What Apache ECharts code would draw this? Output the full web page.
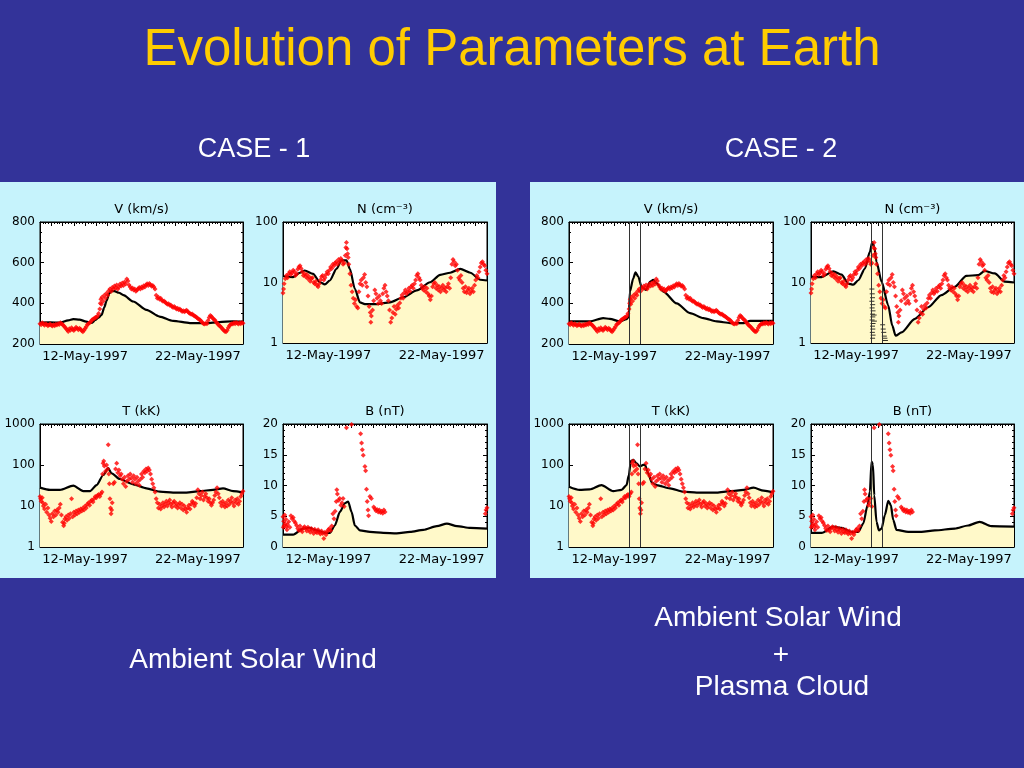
<!DOCTYPE html>
<html>
<head>
<meta charset="utf-8">
<script src="https://cdn.jsdelivr.net/npm/echarts@6/dist/echarts.min.js"></script>
<style>html,body{margin:0;padding:0;background:#333399;}#c{width:1024px;height:768px;}</style>
</head>
<body>
<div id="c"></div>
<script>
// ---------- DATA (day of May 1997, value) ----------
const xTickLabels = {12: '12-May-1997', 22: '22-May-1997'};
const cloudBoundaries = [13.35, 14.3];

// Model (black curve) - CASE 1
const vModel1 = [[8,305],[8.89,306],[9.77,305],[10.5,316],[10.95,322],[11.5,320],[12.1,310],[12.6,304],[12.9,318],[13.2,330],[13.46,343],[13.7,380],[13.9,412],[14.15,450],[14.34,461],[14.6,460],[15.0,452],[15.4,440],[16.26,409],[17.44,368],[18.6,335],[19.8,314],[21.3,303],[22.75,302],[23.9,308],[25.1,312],[26,310]];
const nModel1 = [[8,12.7],[8.89,12.3],[9.5,14.5],[9.92,15.8],[10.66,13.9],[11.25,10.1],[11.69,9.3],[12.13,10.8],[12.72,16.8],[13.16,23.2],[13.6,23.2],[13.9,16.8],[14.34,7.85],[14.79,4.7],[15.23,4.4],[16.26,4.4],[17.44,4.7],[18.62,5.7],[19.8,7.4],[20.98,10.1],[21.87,13.4],[22.75,14.5],[23.64,16.8],[24.53,14.5],[25.41,11.1],[26,10.8]];
const tModel1 = [[8,28],[8.89,24.6],[9.77,24.6],[10.95,31.3],[11.84,23.1],[12.43,23.1],[13.02,32.4],[13.61,57],[14.05,83.6],[14.34,63],[15.08,45.6],[16.26,33.8],[17.44,26.9],[18.62,22.3],[19.8,21.1],[20.98,21.1],[22.16,23.1],[23.34,24.6],[24.23,26.9],[25.12,23.1],[26,21.5]];
const bModel1 = [[8,2.0],[8.89,2.0],[9.77,3.0],[10.36,3.1],[10.95,2.7],[11.69,2.3],[12.13,2.3],[12.57,3.5],[13.02,5.7],[13.46,7.1],[13.75,7.4],[14.05,5.7],[14.34,3.5],[14.79,2.7],[15.67,2.45],[16.85,2.3],[18.03,2.2],[19.21,2.45],[20.39,2.8],[21.57,3.4],[22.46,3.8],[23.35,3.4],[24.53,3.1],[26,3.0]];

// Model (black curve) - CASE 2
const vModel2 = [[8,311],[9.83,311],[11.01,327],[11.6,324],[12.49,311],[13.08,322],[13.28,335],[13.37,458],[13.67,523],[13.87,552],[14.11,531],[14.4,482],[14.79,466],[15.14,506],[15.44,515],[15.73,498],[16.32,458],[17.5,400],[18.68,352],[19.86,327],[21.04,311],[22.22,303],[23.4,303],[23.99,314],[25.17,314],[26,314]];
const nModel2 = [[8,12.3],[8.94,12.3],[9.98,15.3],[10.71,13.5],[11.3,9.6],[11.75,9.2],[12.19,10.9],[12.78,17],[13.22,32],[13.43,46.4],[13.61,39],[13.81,22],[14.26,10.3],[14.85,4.2],[15.2,1.95],[15.5,1.32],[16.03,1.5],[17.21,2.5],[18.39,3.9],[19.57,6.2],[20.75,8.5],[21.78,12.9],[22.81,13.2],[23.4,15.5],[24.29,14.1],[25.17,10.3],[26,10]];
const tModel2 = [[8,29.5],[8.94,24.6],[9.83,25.5],[10.86,32.4],[11.9,23.1],[12.63,24.6],[13.08,32.4],[13.28,57],[13.46,126],[13.67,133],[13.96,110],[14.26,92],[14.55,101],[14.7,101],[14.99,63],[15.29,38],[15.73,32.4],[16.91,27],[18.09,22.3],[19.27,21.1],[21.04,21.1],[22.22,23.1],[23.4,24.6],[24.29,28],[25.17,23.7],[26,21.5]];
const bModel2 = [[8,2.3],[8.94,2.3],[9.98,3.3],[10.71,3.1],[11.6,2.45],[12.19,2.45],[12.63,3.8],[13.02,6.8],[13.22,9.0],[13.37,13.9],[13.49,13.4],[13.61,8.4],[13.81,4.1],[14.02,2.7],[14.26,3.0],[14.55,5.2],[14.85,7.5],[15.08,6.8],[15.29,4.4],[15.58,2.8],[16.62,2.45],[17.8,2.45],[18.98,2.7],[20.75,3.0],[21.93,3.5],[22.96,4.1],[23.99,3.4],[26,3.3]];

// Cloud density dashes (CASE 2, N panel)
const nCloud = [[13.4,7.8],[13.43,6.5],[13.45,5.6],[13.4,4.9],[13.47,4.3],[13.42,3.8],[13.5,3.4],[13.45,3.0],[13.48,2.7],[13.42,2.4],[13.5,2.1],[13.45,1.9],[13.48,1.7],[13.44,1.5],[13.5,1.35],[13.46,1.2],[13.6,2.9],[13.62,2.3],[14.35,2.0],[14.4,1.7],[14.45,1.5],[14.5,1.3],[14.55,1.2],[14.6,1.1]];

// Observations (red) - shared by both cases
const vObs = [[8.0,300],[8.1,295],[8.2,305],[8.3,298],[8.4,292],[8.5,300],[8.6,296],[8.7,290],[8.8,294],[8.9,298],[9.0,292],[9.1,288],[9.2,295],[9.3,290],[9.4,297],[9.5,293],[9.6,300],[9.7,296],[9.8,305],[9.9,300],[10.0,296],[10.1,290],[10.2,284],[10.3,276],[10.4,270],[10.5,262],[10.6,275],[10.7,268],[10.8,280],[10.9,272],[11.0,266],[11.1,274],[11.2,282],[11.3,276],[11.4,270],[11.5,278],[11.6,272],[11.7,265],[11.8,260],[11.9,268],[12.0,276],[12.1,285],[12.2,296],[12.3,300],[12.4,305],[12.5,310],[12.6,318],[12.7,322],[12.8,326],[12.9,330],[13.0,332],[13.1,338],[13.2,350],[13.3,372],[13.35,400],[13.4,420],[13.45,395],[13.5,430],[13.6,410],[13.7,440],[13.8,425],[13.9,450],[14.0,440],[14.1,462],[14.2,470],[14.3,458],[14.4,478],[14.5,470],[14.6,485],[14.7,475],[14.8,490],[14.9,470],[15.0,480],[15.1,495],[15.2,485],[15.3,500],[15.4,488],[15.5,505],[15.6,495],[15.7,520],[15.8,510],[15.9,490],[16.0,480],[16.1,470],[16.2,475],[16.3,465],[16.4,470],[16.5,460],[16.6,466],[16.7,472],[16.8,478],[16.9,470],[17.0,480],[17.1,476],[17.2,486],[17.3,480],[17.4,490],[17.5,496],[17.6,488],[17.7,498],[17.8,492],[17.9,484],[18.0,488],[18.1,480],[18.2,470],[18.3,440],[18.4,425],[18.5,430],[18.6,420],[18.7,425],[18.8,415],[18.9,410],[19.0,412],[19.1,405],[19.2,400],[19.3,395],[19.4,398],[19.5,390],[19.6,392],[19.7,385],[19.8,380],[19.9,384],[20.0,378],[20.1,372],[20.2,376],[20.3,368],[20.4,372],[20.5,366],[20.6,360],[20.7,364],[20.8,358],[20.9,362],[21.0,366],[21.1,360],[21.2,354],[21.3,350],[21.4,346],[21.5,348],[21.6,342],[21.7,338],[21.8,335],[21.9,330],[22.0,326],[22.1,322],[22.2,318],[22.3,312],[22.4,306],[22.5,300],[22.6,298],[22.7,302],[22.8,300],[22.9,315],[23.0,330],[23.1,340],[23.2,335],[23.3,328],[23.4,322],[23.5,318],[23.6,310],[23.7,302],[23.8,296],[23.9,290],[24.0,286],[24.1,280],[24.2,272],[24.3,268],[24.4,262],[24.5,260],[24.6,268],[24.7,280],[24.8,290],[24.9,296],[25.0,300],[25.1,298],[25.2,304],[25.3,300],[25.4,306],[25.5,302],[25.6,298],[25.7,305],[25.8,300],[25.9,306],[26.0,302]];
const nObs = [[8.0,6.7],[8.05,7.8],[8.1,9.5],[8.2,11.5],[8.3,13],[8.4,12],[8.5,14],[8.6,15],[8.7,13.5],[8.8,14.5],[8.9,16],[9.0,15],[9.1,13],[9.2,14],[9.3,16.5],[9.4,18],[9.5,19],[9.6,17],[9.7,15],[9.8,13],[9.9,14],[10.0,12.5],[10.1,13.5],[10.2,11.5],[10.3,12.5],[10.4,10.5],[10.5,11.5],[10.6,12],[10.7,10],[10.8,9.5],[10.9,10.5],[11.0,9],[11.1,8.5],[11.2,9.5],[11.3,11],[11.4,12.5],[11.5,13],[11.6,11],[11.7,12],[11.8,13.5],[11.9,15],[12.0,14],[12.1,16],[12.2,18],[12.3,17],[12.4,20],[12.5,19],[12.6,21],[12.7,22],[12.8,20],[12.9,24],[13.0,22],[13.1,25],[13.2,23],[13.3,20],[13.4,21],[13.5,28],[13.55,38],[13.6,46],[13.65,36],[13.7,30],[13.75,26],[13.8,20],[13.9,14],[14.0,9],[14.1,7],[14.2,5.5],[14.3,4.5],[14.4,5.2],[14.5,4],[14.6,3.8],[14.7,7],[14.8,9.5],[14.9,11],[15.0,9],[15.1,12],[15.2,13.5],[15.3,10],[15.4,8.5],[15.5,6],[15.6,4],[15.7,3.2],[15.75,2.2],[15.8,2.8],[15.9,3.5],[16.0,5],[16.1,7.5],[16.2,6.5],[16.3,5.5],[16.4,4.5],[16.5,6],[16.6,5],[16.7,4.5],[16.8,6.5],[16.9,8],[17.0,9],[17.1,7],[17.2,6],[17.3,5],[17.4,3.5],[17.5,2.2],[17.6,2.6],[17.7,3.2],[17.8,4],[17.9,3],[18.0,3.6],[18.1,4.2],[18.2,3.8],[18.3,4.6],[18.4,5.5],[18.5,6.2],[18.6,5.5],[18.7,6.8],[18.8,7.5],[18.9,6.5],[19.0,7],[19.1,8],[19.2,7.2],[19.3,8.5],[19.4,9],[19.5,8],[19.6,9.5],[19.7,11],[19.8,13],[19.9,14],[20.0,12],[20.1,11],[20.2,9],[20.3,8],[20.4,7.5],[20.5,8.5],[20.6,7],[20.7,8],[20.8,6.5],[20.9,6],[21.0,5.2],[21.1,6],[21.2,8.5],[21.3,9.5],[21.4,10],[21.5,8],[21.6,9],[21.7,7.5],[21.8,8.5],[21.9,7],[22.0,8],[22.1,9],[22.2,7.5],[22.3,8.2],[22.4,7],[22.5,8.5],[22.6,9.5],[22.7,8],[22.8,12],[22.9,20],[23.0,24],[23.1,22],[23.2,19],[23.3,20],[23.4,16],[23.5,12],[23.6,11],[23.7,13],[23.8,10],[23.9,8],[24.0,7],[24.1,8.5],[24.2,6.8],[24.3,7.5],[24.4,8],[24.5,6.5],[24.6,7.2],[24.7,8],[24.8,7],[24.9,9],[25.0,11],[25.1,13],[25.2,12],[25.3,15],[25.4,18],[25.5,21],[25.6,22],[25.7,20],[25.8,19],[25.9,16],[26.0,14]];
const tObs = [[8.0,17],[8.05,15],[8.1,13],[8.2,16],[8.25,12],[8.3,10],[8.4,8.5],[8.5,11],[8.6,7],[8.7,9],[8.8,6],[8.9,5],[9.0,4.2],[9.1,6.5],[9.2,5.5],[9.3,7.5],[9.4,6],[9.5,8],[9.6,7],[9.7,9],[9.8,11],[9.9,6],[10.0,4],[10.1,3.3],[10.15,3.8],[10.2,4.8],[10.3,5.5],[10.4,4.5],[10.5,6],[10.6,5],[10.7,6.5],[10.8,15],[10.9,5.5],[11.0,7],[11.1,6],[11.2,7.5],[11.3,6.5],[11.4,8],[11.5,7],[11.6,8.5],[11.7,7.5],[11.8,9],[11.9,8],[12.0,10],[12.1,9],[12.2,11],[12.3,12],[12.4,10.5],[12.5,13],[12.6,14],[12.7,12.5],[12.8,15],[12.9,17],[13.0,16],[13.1,18],[13.2,19],[13.3,17],[13.4,20],[13.5,22],[13.55,60],[13.6,110],[13.65,125],[13.7,95],[13.8,70],[13.9,100],[14.0,80],[14.05,310],[14.1,60],[14.15,35],[14.2,15],[14.25,9],[14.3,6.5],[14.35,8],[14.4,12],[14.5,35],[14.6,38],[14.7,80],[14.8,110],[14.9,65],[15.0,75],[15.1,55],[15.2,60],[15.3,45],[15.4,35],[15.5,50],[15.6,30],[15.7,40],[15.8,55],[15.9,45],[16.0,60],[16.1,48],[16.2,38],[16.3,55],[16.4,45],[16.5,35],[16.6,50],[16.7,40],[16.8,32],[16.9,45],[17.0,60],[17.1,50],[17.2,70],[17.3,65],[17.4,80],[17.5,70],[17.6,85],[17.7,75],[17.8,60],[17.9,45],[18.0,35],[18.1,28],[18.2,22],[18.3,15],[18.4,12],[18.5,9],[18.6,11],[18.7,8.5],[18.8,10],[18.9,12],[19.0,9.5],[19.1,11],[19.2,13],[19.3,10],[19.4,12],[19.5,14],[19.6,11],[19.7,9.5],[19.8,12],[19.9,13],[20.0,10],[20.1,11.5],[20.2,9],[20.3,10.5],[20.4,12],[20.5,9],[20.6,11],[20.7,8],[20.8,10],[20.9,8.5],[21.0,7],[21.1,9],[21.2,10.5],[21.3,8.5],[21.4,11],[21.5,13],[21.6,12],[21.7,10],[21.8,11.5],[21.9,16],[22.0,25],[22.1,20],[22.2,15],[22.3,18],[22.4,22],[22.5,14],[22.6,17],[22.7,20],[22.8,16],[22.9,13],[23.0,15],[23.1,12],[23.2,10.5],[23.3,12],[23.4,14],[23.5,18],[23.6,22],[23.7,28],[23.8,20],[23.9,16],[24.0,12],[24.1,10],[24.2,13],[24.3,11],[24.4,9.5],[24.5,12],[24.6,10],[24.7,14],[24.8,11],[24.9,13],[25.0,16],[25.1,12],[25.2,10],[25.3,14],[25.4,12],[25.5,15],[25.6,11],[25.7,13],[25.8,17],[25.9,20],[26.0,23]];
const bObs = [[8.0,4.9],[8.03,3.2],[8.06,4.2],[8.1,3.5],[8.15,5.2],[8.2,3.8],[8.25,4.5],[8.3,3.3],[8.35,2.8],[8.4,3.6],[8.5,4.1],[8.6,3.2],[8.7,5.1],[8.8,4.6],[8.9,4.8],[9.0,4.2],[9.1,3.9],[9.2,3.5],[9.3,3.0],[9.4,2.7],[9.5,3.4],[9.6,2.8],[9.7,2.5],[9.8,3.1],[9.9,3.3],[10.0,3.0],[10.1,2.6],[10.2,3.2],[10.3,2.8],[10.4,2.4],[10.5,3.0],[10.6,2.7],[10.7,2.2],[10.8,2.9],[10.9,2.5],[11.0,2.3],[11.1,2.8],[11.2,2.4],[11.3,2.1],[11.4,2.6],[11.5,2.2],[11.6,1.4],[11.7,2.4],[11.8,2.0],[11.9,2.5],[12.0,2.8],[12.1,3.0],[12.2,2.7],[12.3,3.4],[12.4,5.4],[12.5,4.6],[12.6,5.8],[12.7,7.4],[12.75,9.3],[12.8,8.6],[12.9,7.6],[13.0,7.9],[13.1,6.8],[13.2,7.2],[13.3,7.9],[13.4,6.6],[13.6,19.4],[14.05,19.9],[14.85,18.4],[14.93,16.9],[15.0,15.8],[15.08,14.9],[15.23,13.1],[15.29,12.4],[15.37,9.4],[15.43,7.4],[15.5,6.0],[15.55,5.1],[15.67,8.2],[15.8,7.9],[16.0,6.5],[16.1,6.2],[16.2,5.9],[16.3,6.1],[16.4,5.7],[16.5,6.0],[16.6,5.6],[16.7,5.8],[16.8,5.5],[16.9,6.0],[17.0,5.7],[25.85,5.4],[25.92,6.0],[26.0,6.4]];

// ---------- LAYOUT / STYLE ----------
const FILL = '#FFF9C9';
const XFONT = {fontFamily: 'DejaVu Sans', fontSize: 13, color: '#000'};
const YFONT = {fontFamily: 'DejaVu Sans', fontSize: 12, color: '#000'};
const yCfg = {
  V: {type: 'value', min: 200, max: 800, interval: 200, minor: 4},
  N: {type: 'log', min: 1, max: 100},
  T: {type: 'log', min: 1, max: 1000},
  B: {type: 'value', min: 0, max: 20, interval: 5, minor: 5}
};
const panels = [
  {k: 'V', left: 40,  top: 222, w: 203, h: 122, model: vModel1, obs: vObs, title: 'V (km/s)', cloud: false},
  {k: 'N', left: 283, top: 222, w: 204, h: 121, model: nModel1, obs: nObs, title: 'N (cm⁻³)', cloud: false},
  {k: 'T', left: 40,  top: 424, w: 203, h: 123, model: tModel1, obs: tObs, title: 'T (kK)', cloud: false},
  {k: 'B', left: 283, top: 424, w: 204, h: 123, model: bModel1, obs: bObs, title: 'B (nT)', cloud: false},
  {k: 'V', left: 569, top: 222, w: 204, h: 122, model: vModel2, obs: vObs, title: 'V (km/s)', cloud: true},
  {k: 'N', left: 811, top: 222, w: 203, h: 121, model: nModel2, obs: nObs, title: 'N (cm⁻³)', cloud: true, dashes: nCloud},
  {k: 'T', left: 569, top: 424, w: 204, h: 123, model: tModel2, obs: tObs, title: 'T (kK)', cloud: true},
  {k: 'B', left: 811, top: 424, w: 203, h: 123, model: bModel2, obs: bObs, title: 'B (nT)', cloud: true}
];

const grid = [], xAxis = [], yAxis = [], series = [];
const graphicEls = [
  {type: 'rect', shape: {x: 0, y: 182, width: 496, height: 396}, style: {fill: '#C6F3FC'}, z: -10},
  {type: 'rect', shape: {x: 530, y: 182, width: 494, height: 396}, style: {fill: '#C6F3FC'}, z: -10}
];
const txt = (t, x, y, size, color) => ({type: 'text', x: x, y: y, z: 50,
  style: {text: t, fill: color, font: size + 'px "Liberation Sans", Arial, sans-serif', textAlign: 'center', textVerticalAlign: 'middle'}});
graphicEls.push(txt('Evolution of Parameters at Earth', 512, 51, 51, '#FFCC00'));
graphicEls.push(txt('CASE - 1', 254, 150, 27, '#fff'));
graphicEls.push(txt('CASE - 2', 781, 150, 27, '#fff'));
graphicEls.push(txt('Ambient Solar Wind', 253, 660, 28, '#fff'));
graphicEls.push(txt('Ambient Solar Wind', 778, 618, 28, '#fff'));
graphicEls.push(txt('+', 781, 655, 28, '#fff'));
graphicEls.push(txt('Plasma Cloud', 782, 687, 28, '#fff'));

panels.forEach((p, i) => {
  grid.push({left: p.left, top: p.top, width: p.w, height: p.h, show: true, backgroundColor: '#fff', borderColor: '#000', borderWidth: 1, z: 0});
  graphicEls.push({type: 'text', x: p.left + p.w / 2, y: p.top - 12, z: 50,
    style: {text: p.title, fill: '#000', font: '13px "DejaVu Sans", sans-serif', textAlign: 'center', textVerticalAlign: 'middle'}});
  ['bottom', 'top'].forEach((pos, j) => {
    xAxis.push({type: 'value', gridIndex: i, position: pos, min: 8, max: 26, interval: 1,
      axisLine: {show: true, onZero: false, lineStyle: {color: '#000', width: 1}},
      axisTick: {show: true, inside: true, length: 4, lineStyle: {color: '#000'}},
      minorTick: {show: true, splitNumber: 4, length: 2, lineStyle: {color: '#000'}},
      splitLine: {show: false},
      axisLabel: j === 0 ? Object.assign({show: true, margin: 6, formatter: v => xTickLabels[v] || ''}, XFONT) : {show: false}
    });
  });
  const yc = yCfg[p.k];
  ['left', 'right'].forEach((pos, j) => {
    const ax = {type: yc.type, gridIndex: i, position: pos, min: yc.min, max: yc.max,
      axisLine: {show: true, onZero: false, lineStyle: {color: '#000', width: 1}},
      axisTick: {show: true, inside: true, length: 4, lineStyle: {color: '#000'}},
      splitLine: {show: false},
      axisLabel: j === 0 ? Object.assign({show: true, margin: 5, formatter: v => String(Math.round(v))}, YFONT) : {show: false}
    };
    if (yc.type === 'log') { ax.logBase = 10; }
    else { ax.interval = yc.interval; ax.minorTick = {show: true, splitNumber: yc.minor, length: 2, lineStyle: {color: '#000'}}; }
    yAxis.push(ax);
  });
  const s = {type: 'line', xAxisIndex: 2 * i, yAxisIndex: 2 * i, data: p.model, showSymbol: false, smooth: 0.25,
    smoothMonotone: 'x', lineStyle: {color: '#000', width: 2.2}, areaStyle: {color: FILL, opacity: 1, origin: 'start'},
    z: 2, silent: true, animation: false};
  if (p.cloud) {
    s.markLine = {silent: true, symbol: 'none', label: {show: false}, animation: false,
      lineStyle: {color: '#333', width: 1, type: 'solid'}, data: cloudBoundaries.map(d => ({xAxis: d}))};
  }
  series.push(s);
  series.push({type: 'scatter', xAxisIndex: 2 * i, yAxisIndex: 2 * i, data: p.obs, symbol: 'diamond', symbolSize: 5,
    itemStyle: {color: '#FF0000'}, z: 3, silent: true, animation: false, clip: true});
  if (p.dashes) {
    series.push({type: 'scatter', xAxisIndex: 2 * i, yAxisIndex: 2 * i, data: p.dashes, symbol: 'rect', symbolSize: [5, 1],
      itemStyle: {color: '#000'}, z: 4, silent: true, animation: false});
  }
});

const chart = echarts.init(document.getElementById('c'));
chart.setOption({
  backgroundColor: '#333399',
  animation: false,
  grid: grid, xAxis: xAxis, yAxis: yAxis, series: series,
  graphic: {elements: graphicEls}
});
</script>
</body>
</html>
